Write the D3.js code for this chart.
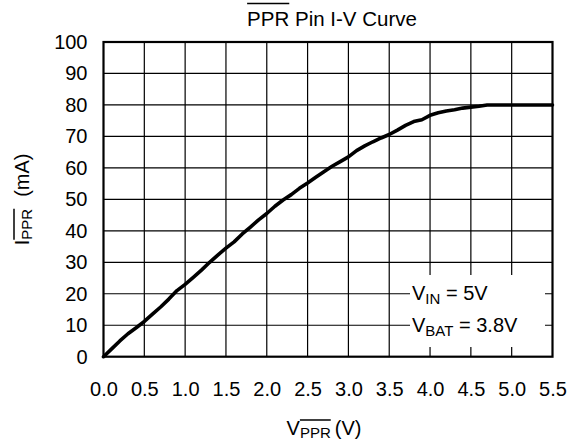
<!DOCTYPE html>
<html>
<head>
<meta charset="utf-8">
<script src="https://cdn.jsdelivr.net/npm/d3@7"></script>
<style>
  body { margin: 0; background: #fff; }
  svg text { font-family: "Liberation Sans", Arial, sans-serif; fill: #000; }
</style>
</head>
<body>
<div id="chart"></div>
<script>
// values
const vPpr = [0.0, 0.1, 0.2, 0.3, 0.4, 0.5, 0.6, 0.7, 0.8, 0.9, 1.0, 1.1, 1.2, 1.3, 1.4, 1.5, 1.6, 1.7, 1.8, 1.9,
  2.0, 2.1, 2.2, 2.3, 2.4, 2.5, 2.6, 2.7, 2.8, 2.9, 3.0, 3.1, 3.2, 3.3, 3.4, 3.5, 3.6, 3.7, 3.8, 3.9,
  4.0, 4.1, 4.2, 4.3, 4.4, 4.5, 4.6, 4.7, 5.5];
const iPpr = [0, 2.5, 5, 7.3, 9.2, 11.2, 13.5, 15.8, 18.3, 21, 23, 25.2, 27.5, 30, 32.3, 34.5, 36.5, 39, 41.2, 43.5,
  45.5, 47.8, 49.8, 51.5, 53.5, 55.2, 57, 58.8, 60.5, 62, 63.5, 65.5, 67, 68.3, 69.5, 70.6, 72, 73.5, 74.7, 75.3,
  76.7, 77.5, 78.1, 78.5, 79, 79.3, 79.6, 80, 80];
const xTicks = [0, 0.5, 1, 1.5, 2, 2.5, 3, 3.5, 4, 4.5, 5, 5.5];
const yTicks = [0, 10, 20, 30, 40, 50, 60, 70, 80, 90, 100];

const width = 579, height = 445,
    margin = ({ top: 42, right: 26.5, bottom: 88.3, left: 103.5 });

const svg = d3.select("#chart")
    .append("svg")
    .attr("width", width)
    .attr("height", height);

const data = vPpr.map((v, i) => ({ v: v, i: iPpr[i] }));

const x = d3.scaleLinear()
    .domain([0, 5.5])
    .range([margin.left, width - margin.right]);

const y = d3.scaleLinear()
    .domain([0, 100])
    .range([height - margin.bottom, margin.top]);

// grid
svg.append("g")
  .selectAll("line")
  .data(xTicks.slice(1, -1))
  .join("line")
    .attr("x1", d => x(d)).attr("x2", d => x(d))
    .attr("y1", y(0)).attr("y2", y(100))
    .attr("stroke", "#000").attr("stroke-width", 1.2);

svg.append("g")
  .selectAll("line")
  .data(yTicks.slice(1, -1))
  .join("line")
    .attr("y1", d => y(d)).attr("y2", d => y(d))
    .attr("x1", x(0)).attr("x2", x(5.5))
    .attr("stroke", "#000").attr("stroke-width", 1.2);

// white box behind the conditions text
svg.append("rect")
    .attr("x", 410).attr("y", 275)
    .attr("width", 135).attr("height", 72)
    .attr("fill", "#fff");

// frame
svg.append("rect")
    .attr("x", x(0)).attr("y", y(100))
    .attr("width", x(5.5) - x(0)).attr("height", y(0) - y(100))
    .attr("fill", "none").attr("stroke", "#000").attr("stroke-width", 2.2);

// tick labels
svg.append("g")
  .attr("transform", `translate(0,${y(0)})`)
  .call(d3.axisBottom(x).tickValues(xTicks).tickFormat(d3.format(".1f")).tickSize(0).tickPadding(25))
  .call(g => g.select(".domain").remove())
  .selectAll("text")
    .attr("font-size", 20)
    .attr("font-family", "Liberation Sans, Arial, sans-serif");

svg.append("g")
  .attr("transform", `translate(${x(0)},0)`)
  .call(d3.axisLeft(y).tickValues(yTicks).tickSize(0).tickPadding(16))
  .call(g => g.select(".domain").remove())
  .selectAll("text")
    .attr("font-size", 20)
    .attr("font-family", "Liberation Sans, Arial, sans-serif");

// the curve
const line = d3.line()
    .x(d => x(d.v))
    .y(d => y(d.i));

svg.append("path")
    .datum(data)
    .attr("d", line)
    .attr("fill", "none")
    .attr("stroke", "#000")
    .attr("stroke-width", 3.6)
    .attr("stroke-linejoin", "round")
    .attr("stroke-linecap", "round");

// draws a bar over a tspan, lift = px above baseline
function overbar(g, tspan, lift) {
  const node = tspan.node();
  const p0 = node.getStartPositionOfChar(0);
  const n = node.getNumberOfChars();
  const p1 = node.getEndPositionOfChar(n - 1);
  g.append("line")
    .attr("x1", p0.x).attr("x2", p1.x)
    .attr("y1", p0.y - lift).attr("y2", p0.y - lift)
    .attr("stroke", "#000").attr("stroke-width", 1.5);
}

// title
const tg = svg.append("g");
const title = tg.append("text")
    .attr("x", 332)
    .attr("y", 26)
    .attr("text-anchor", "middle")
    .attr("font-size", 20.5);
const tBar = title.append("tspan").text("PPR");
title.append("tspan").text(" Pin I-V Curve");
overbar(tg, tBar, 22.5);

// x label
const xg = svg.append("g");
const xl = xg.append("text")
    .attr("x", 324)
    .attr("y", 435)
    .attr("text-anchor", "middle")
    .attr("font-size", 20);
xl.append("tspan").text("V");
const xBar = xl.append("tspan").attr("dy", 3).attr("font-size", 15).text("PPR");
xl.append("tspan").attr("dy", -3).attr("dx", 4).text("(V)");
overbar(xg, xBar, 18);

// y label
const yg = svg.append("g")
    .attr("transform", `translate(29,${(y(0) + y(100)) / 2}) rotate(-90)`);
const yl = yg.append("text")
    .attr("text-anchor", "middle")
    .attr("font-size", 20);
yl.append("tspan").text("I");
const yBar = yl.append("tspan").attr("dy", 3).attr("font-size", 15).text("PPR");
yl.append("tspan").attr("dy", -3).attr("dx", 12).text("(mA)");
overbar(yg, yBar, 18);

// test conditions
const c1 = svg.append("text").attr("x", 412).attr("y", 300).attr("font-size", 20);
c1.append("tspan").text("V");
c1.append("tspan").attr("dy", 4).attr("font-size", 15).text("IN");
c1.append("tspan").attr("dy", -4).text(" = 5V");

const c2 = svg.append("text").attr("x", 412).attr("y", 332).attr("font-size", 20);
c2.append("tspan").text("V");
c2.append("tspan").attr("dy", 4).attr("font-size", 15).text("BAT");
c2.append("tspan").attr("dy", -4).text(" = 3.8V");
</script>
</body>
</html>
